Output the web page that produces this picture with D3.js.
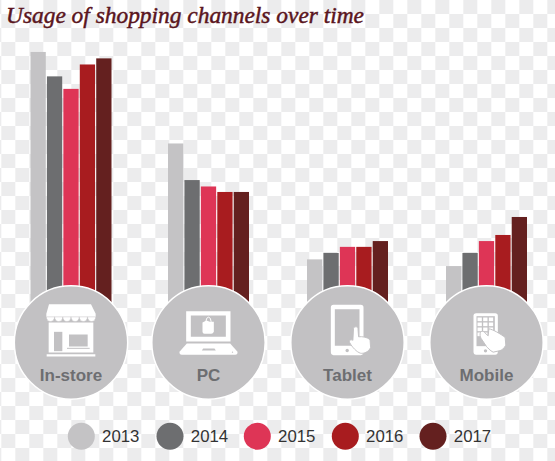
<!DOCTYPE html>
<html><head><meta charset="utf-8">
<script src="https://cdn.jsdelivr.net/npm/d3@7"></script>
<style>html,body{margin:0;padding:0;background:#fff}svg{display:block}</style>
</head><body><svg id="c" width="555" height="461"></svg>
<script>
const titleText = "Usage of shopping channels over time";
const channels = ["In-store","PC","Tablet","Mobile"];
const years = ["2013","2014","2015","2016","2017"];
const inStore = [84.6,76.6,72.5,80.5,82.5];
const pc = [54.6,42.6,40.5,38.7,38.7];
const tablet = [16.6,18.7,20.7,20.7,22.6];
const mobile = [14.4,18.7,22.6,24.6,30.5];
const seriesByChannel = [inStore,pc,tablet,mobile];
const yearColors = ["#c4c3c5","#6d6e70","#de3556","#a81c1f","#64201f"];

const W=555,H=461,grey="#c2c1c3",labelCol="#6d6e71";
const svg=d3.select("#c");
const defs=svg.append("defs");
const pat=defs.append("pattern").attr("id","chk").attr("patternUnits","userSpaceOnUse")
  .attr("x",1.3).attr("y",0).attr("width",28).attr("height",28);
pat.append("rect").attr("width",28).attr("height",28).attr("fill","#fff");
pat.append("rect").attr("x",0).attr("y",14).attr("width",14).attr("height",14).attr("fill","#ececed");
pat.append("rect").attr("x",14).attr("y",0).attr("width",14).attr("height",14).attr("fill","#ececed");
defs.append("filter").attr("id","soft").attr("x",0).attr("y",0).attr("width",1).attr("height",1)
  .append("feGaussianBlur").attr("stdDeviation",0.7);
svg.append("rect").attr("x",-5).attr("y",-5).attr("width",W+10).attr("height",H+10).attr("fill","url(#chk)").attr("filter","url(#soft)");

svg.append("text").attr("x",6).attr("y",22.5).text(titleText)
  .attr("font-family","'Liberation Serif',serif").attr("font-style","italic").attr("font-size",22.5)
  .attr("fill","#5a1520").attr("stroke","#5a1520").attr("stroke-width",0.45)
  .attr("textLength",358).attr("lengthAdjust","spacingAndGlyphs");

const cx=d3.scaleOrdinal(channels,[71,208.5,347.5,486.5]);
const bx=d3.scaleBand(years,[-40.5,40.5]).paddingInner(0.07);
const y=d3.scaleLinear([0,100],[310,5]);
const col=d3.scaleOrdinal(years,yearColors);
const cy=342.5,r=56.7;

const groups=svg.selectAll("g.ch").data(channels).join("g").attr("class","ch")
  .attr("transform",d=>`translate(${cx(d)},0)`);
groups.selectAll("rect").data((d,i)=>seriesByChannel[i].map((v,j)=>({v,year:years[j]}))).join("rect")
  .attr("x",d=>bx(d.year)).attr("width",bx.bandwidth())
  .attr("y",d=>y(d.v)).attr("height",d=>y(0)-y(d.v)).attr("fill",d=>col(d.year));
groups.append("circle").attr("cy",cy).attr("r",r).attr("fill",grey).attr("stroke","#fff").attr("stroke-width",1.5);
groups.append("text").attr("y",381).attr("text-anchor","middle").text(d=>d)
  .attr("font-family","'Liberation Sans',Arial,sans-serif").attr("font-weight","bold").attr("font-size",17).attr("fill",labelCol);

// icons, authored in a 3x grid around each circle's centre
const icon=groups.append("g").attr("transform",`translate(0,${cy}) scale(${1/3})`);
function add(g,d,f){g.append("path").attr("d",d).attr("fill",f);}
const handPath="M-2 -2 C-2 -10 12 -10 12 -2 L14 26 C24 24 44 28 50 36 L52 62 C46 78 30 84 20 82 C8 78 -6 62 -14 46 C-18 38 -10 34 -4 38 Z";
// store
const s=icon.filter(d=>d==="In-store");
add(s,"M-66 -115 L60 -115 L74 -86 L74 -76 L-74 -76 L-74 -86 Z","#fff");
for(let i=0;i<6;i++) s.append("path").attr("d",`M${-74+i*24.7} -77 a12.3 14 0 0 0 24.7 0 Z`).attr("fill","#fff").attr("stroke",grey).attr("stroke-width",1.5);
add(s,"M-67 -60 H67 V30 H-67 Z","#fff");
add(s,"M-73 35 H73 V42 H-73 Z","#fff");
s.append("rect").attr("x",-51).attr("y",-32).attr("width",25).attr("height",58).attr("fill",grey);
s.append("rect").attr("x",-6).attr("y",-24).attr("width",56).attr("height",36).attr("fill",grey);
s.append("rect").attr("x",-12).attr("y",16).attr("width",68).attr("height",3).attr("fill",grey);
// pc
const p=icon.filter(d=>d==="PC");
add(p,"M-67 -94 H66 V-3 H-67 Z M-53 -81 V-17 H52 V-81 Z","#fff");
p.selectAll("path").attr("fill-rule","evenodd");
add(p,"M-65 3 H65 L87 28 Q88 37 80 37 H-80 Q-88 37 -87 28 Z","#fff");
add(p,"M-20 24 L-16 18 H18 L22 24 Z",grey);
p.append("circle").attr("cx",72).attr("cy",29).attr("r",2).attr("fill",grey);
add(p,"M-18 -60 L-6 -66 L4 -62 L16 -62 L16 -32 Q14 -26 8 -26 H-12 Q-18 -26 -18 -32 Z","#fff");
p.append("path").attr("d","M-8 -62 Q-7 -76 0 -76 Q7 -76 8 -62").attr("fill","none").attr("stroke","#fff").attr("stroke-width",3);
// tablet
const t=icon.filter(d=>d==="Tablet");
t.append("path").attr("fill-rule","evenodd").attr("fill","#fff")
  .attr("d","M-50 -105 Q-50 -113 -42 -113 H40 Q48 -113 48 -105 V28 Q48 38 40 38 H-42 Q-50 38 -50 28 Z M-38 -100 V10 H36 V-100 Z");
t.append("circle").attr("cx",-1).attr("cy",24).attr("r",5).attr("fill",grey);
t.append("path").attr("d",handPath).attr("transform","translate(20,-40) scale(.95,.88)").attr("fill","#fff").attr("stroke",grey).attr("stroke-width",3);
// mobile
const m=icon.filter(d=>d==="Mobile");
m.append("path").attr("fill-rule","evenodd").attr("fill","#fff")
  .attr("d","M-39 -80 Q-39 -88 -31 -88 H26 Q34 -88 34 -80 V27 Q34 37 26 37 H-31 Q-39 37 -39 27 Z");
m.append("rect").attr("x",-30).attr("y",-79).attr("width",55).attr("height",90).attr("fill",grey);
const gridCols=[0,1,2],gridRows=[0,1,2,3];
gridRows.forEach(a=>gridCols.forEach(b=>m.append("rect").attr("x",-27+b*17).attr("y",-75+a*15).attr("width",13).attr("height",11).attr("fill","#fff")));
m.append("circle").attr("cx",-3).attr("cy",25).attr("r",5).attr("fill",grey);
m.append("path").attr("d","M-18 -30 C-14 -36 -8 -34 -4 -28 L5 -20 L7 -41 C18 -40 42 -26 56 -15 L58 8 C52 18 46 24 38 25 L20 29 C10 24 4 16 0 12 L-16 -12 C-20 -18 -20 -26 -18 -30 Z").attr("fill","#fff").attr("stroke",grey).attr("stroke-width",3);

// legend
const lx=d3.scaleOrdinal(years,[81.3,170,257.3,345.3,433]);
const lg=svg.selectAll("g.lg").data(years).join("g").attr("class","lg").attr("transform",d=>`translate(${lx(d)},436.3)`);
lg.append("circle").attr("r",13.5).attr("fill",d=>col(d));
lg.append("text").attr("x",20.8).attr("y",6).text(d=>d)
  .attr("font-family","'Liberation Sans',Arial,sans-serif").attr("font-size",16.8).attr("fill","#333");
</script></body></html>
